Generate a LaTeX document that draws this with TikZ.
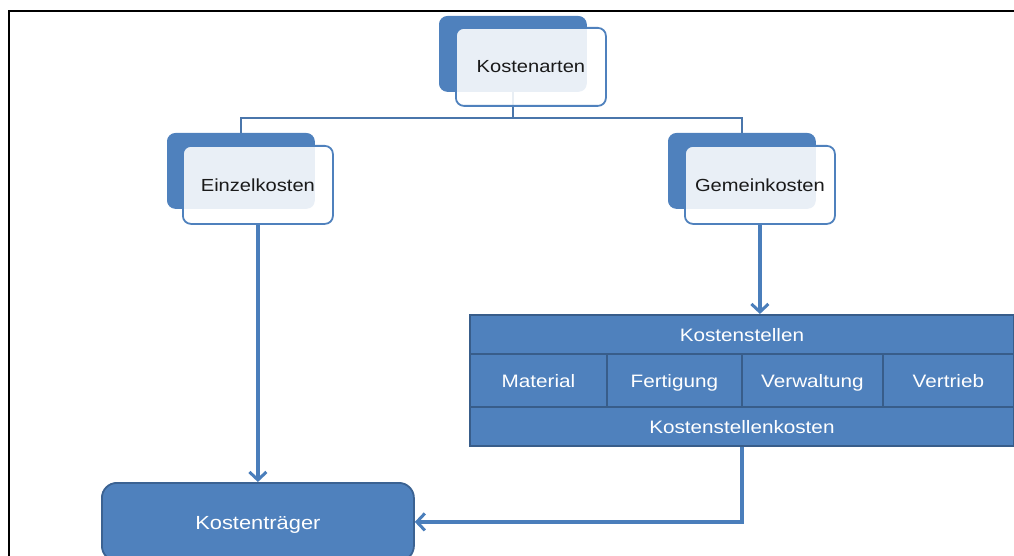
\documentclass[tikz,border=0pt]{standalone}
\usepackage{fontspec}
\setmainfont{Liberation Sans}[FakeStretch=1.15]
\usetikzlibrary{arrows.meta,backgrounds,positioning}

\definecolor{accent}{HTML}{4F81BD}
\definecolor{accentdark}{HTML}{385D8A}
\definecolor{treeline}{HTML}{4A76AB}
\definecolor{arrowline}{HTML}{4A7EBB}
\definecolor{labeldark}{HTML}{1A1A1A}

\tikzset{
  backcard/.style={rectangle, rounded corners=8pt, fill=accent, draw=accent,
    line width=0.8pt, minimum width=147pt, minimum height=75pt,
    inner sep=0pt, anchor=north west},
  frontcard/.style={rectangle, rounded corners=8pt, draw=accent, line width=1.8pt,
    fill=white, fill opacity=0.88, text opacity=1, text=labeldark,
    minimum width=150pt, minimum height=78pt, inner sep=0pt, anchor=north west,
    font=\fontsize{17.5}{20}\selectfont},
  cell/.style={rectangle, fill=accent, draw=accentdark, line width=1.8pt,
    text=white, inner sep=0pt, anchor=north west,
    text height=15pt, text depth=1pt,
    font=\fontsize{18}{20}\selectfont},
  carrier/.style={rectangle, rounded corners=15pt, fill=accent, draw=accentdark!85!accent,
    line width=1.8pt, text=white, inner sep=0pt, anchor=north west,
    minimum width=312pt, minimum height=78pt,
    text height=15pt, text depth=0pt,
    font=\fontsize{19}{22}\selectfont},
  treeconn/.style={draw=treeline, line width=2pt},
  flowarrow/.style={draw=arrowline, line width=3.2pt,
    -{Straight Barb[length=8pt,width=17pt,line width=3pt]}},
}

\begin{document}
\begin{tikzpicture}[x=1pt,y=-1pt]
\clip (0,0) rectangle (1014,556);

% outer frame (left and top edges are inside the page)
\draw[black, line width=2pt] (9,560) -- (9,11) -- (1020,11);

% cost types
\node[backcard] (artenb) at (439,16) {};
\node[frontcard] (arten) at (455,27) {Kostenarten};

\node[backcard] (einzelb) at (167,133) {};
\node[frontcard] (einzel) at (182,145) {Einzelkosten};

\node[backcard] (gemeinb) at (668,133) {};
\node[frontcard] (gemein) at (684,145) {Gemeinkosten};

% cost centre table
\node[cell, minimum width=544pt, minimum height=39pt] (kstellen) at (469,314) {Kostenstellen};
\node[cell, minimum width=137pt, minimum height=53pt] (material) at (469,353) {Material};
\node[cell, minimum width=135pt, minimum height=53pt] (fertigung) at (606,353) {Fertigung};
\node[cell, minimum width=141pt, minimum height=53pt] (verwaltung) at (741,353) {Verwaltung};
\node[cell, minimum width=131pt, minimum height=53pt] (vertrieb) at (882,353) {Vertrieb};
\node[cell, minimum width=544pt, minimum height=39pt] (kskosten) at (469,406) {Kostenstellenkosten};

% cost unit
\node[carrier] (traeger) at (101,482) {Kostenträger};

\begin{scope}[on background layer]
  \coordinate (bus) at (0,118);
  \draw[treeconn] (artenb.south) -- (artenb.south |- bus);
  \draw[treeconn] (einzelb.north) -- (einzelb.north |- bus)
                  -- (gemeinb.north |- bus) -- (gemeinb.north);
  \draw[flowarrow] (einzel.south) -- (einzel.south |- traeger.north);
  \draw[flowarrow] (gemein.south) -- (gemein.south |- kstellen.north);
  \draw[flowarrow] (kskosten.south) -- (kskosten.south |- traeger.east) -- (traeger.east);
\end{scope}
\end{tikzpicture}
\end{document}
